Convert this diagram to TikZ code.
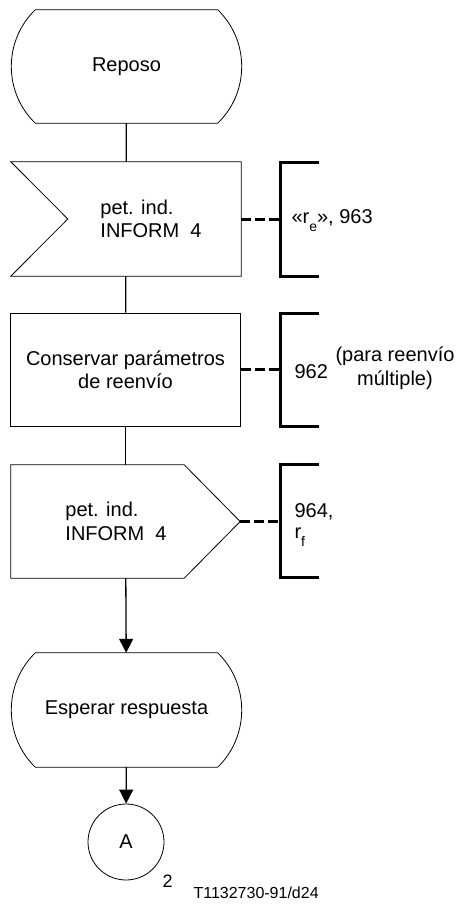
\documentclass[tikz,border=0pt]{standalone}
\usepackage{fontspec}
\setmainfont{Liberation Sans}
\usetikzlibrary{arrows.meta, calc}
\tikzset{>={Triangle[width=14pt,length=14pt]}}
\tikzset{
  every node/.style={font=\fontsize{20}{23.5}\selectfont},
  sdlbox/.style={minimum width=230pt, minimum height=113pt, inner sep=0pt},
  outline/.style={line width=0.8pt},
  flowline/.style={line width=1.3pt},
  bracketline/.style={line width=3pt, line join=miter},
  dashline/.style={line width=3pt, dash pattern=on 10pt off 4pt}
}
\newcommand\lowsub[1]{\raisebox{-8pt}{\fontsize{14}{14}\selectfont #1}}

\begin{document}
\begin{tikzpicture}[x=1pt, y=-1pt]
\useasboundingbox (0,0) rectangle (463,913);
% nodes
\node[sdlbox] (reposo) at (126.5,66.5) {Reposo};
\node[sdlbox, minimum height=114pt,
  label={[align=left, xshift=25pt]center:pet. ind.\\INFORM~~4}] (petin) at (126,219) {};
\node[sdlbox, draw, outline, align=center] (conserv) at (125.5,369.5) {Conservar parámetros\\de reenvío};
\node[sdlbox, minimum width=229pt,
  label={[align=left, xshift=-9.5pt]center:pet. ind.\\INFORM~~4}] (petout) at (125.5,521.5) {};
\node[sdlbox, minimum height=114pt] (esperar) at (126.5,710) {Esperar respuesta};
\node[circle, draw, outline, minimum size=76pt, inner sep=0pt] (conA) at (126,842) {A};
\node[anchor=base west, font=\fontsize{18}{18}\selectfont] (pagina) at (159,887) {2};
\node[anchor=base west, font=\fontsize{16}{16}\selectfont] (ref) at (190,898) {T1132730-91/d24};

% state symbols
\draw[outline] ($(reposo.north west)+(24,0)$) -- ($(reposo.north east)+(-24,0)$)
  .. controls +(32,30.8) and +(32,-30.8) .. ($(reposo.south east)+(-24,0)$)
  -- ($(reposo.south west)+(24,0)$)
  .. controls +(-32,-30.8) and +(-32,30.8) .. cycle;
\draw[outline] ($(esperar.north west)+(24,0)$) -- ($(esperar.north east)+(-24,0)$)
  .. controls +(32,31) and +(32,-31) .. ($(esperar.south east)+(-24,0)$)
  -- ($(esperar.south west)+(24,0)$)
  .. controls +(-32,-31) and +(-32,31) .. cycle;
% input and output symbols
\draw[outline] (petin.north west) -- (petin.north east) -- (petin.south east)
  -- (petin.south west) -- ($(petin.west)+(57,0)$) -- cycle;
\draw[outline] (petout.north west) -- ($(petout.north east)+(-56,0)$) -- (petout.east)
  -- ($(petout.south east)+(-56,0)$) -- (petout.south west) -- cycle;

% flow lines
\draw[flowline] (reposo) -- (petin);
\draw[flowline] (petin) -- (conserv);
\draw[flowline] (conserv) -- (petout);
\draw[flowline, ->] (petout) -- (esperar);
\draw[flowline, ->] (esperar) -- (conA);

% comment brackets
\coordinate (c1) at (280,219);
\coordinate (c2) at (280,369.5);
\coordinate (c3) at (280,521.5);
\draw[dashline] (petin.east) -- (c1);
\draw[dashline] (conserv.east) -- (c2);
\draw[dashline] (petout.east) -- (c3);
\draw[bracketline] ($(c1)+(39,-57)$) -- ($(c1)+(0,-57)$) -- ($(c1)+(0,57)$) -- ($(c1)+(39,57)$);
\draw[bracketline] ($(c2)+(39,-56.5)$) -- ($(c2)+(0,-56.5)$) -- ($(c2)+(0,56.5)$) -- ($(c2)+(39,56.5)$);
\draw[bracketline] ($(c3)+(39,-57)$) -- ($(c3)+(0,-57)$) -- ($(c3)+(0,56)$) -- ($(c3)+(39,56)$);
\node[anchor=base west] (n1) at (288,223) {«r\lowsub{e}», 963};
\node[anchor=base west] (n2) at (291,378) {962};
\node[align=center, font=\fontsize{20}{24}\selectfont] (n2b) at (395,368) {(para reenvío\\múltiple)};
\node[anchor=base west, align=left, font=\fontsize{20}{21}\selectfont] (n3) at (291,538) {964,\\r\lowsub{f}};
\end{tikzpicture}
\end{document}
